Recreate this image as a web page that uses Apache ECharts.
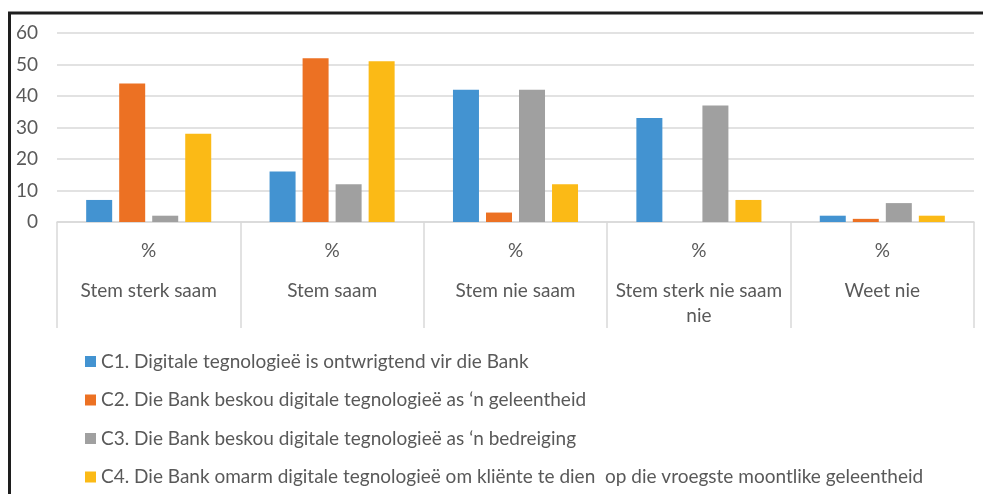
<!DOCTYPE html>
<html>
<head>
    <meta charset="utf-8">
    <title>Digitale tegnologie</title>
    <script src="https://cdn.jsdelivr.net/npm/echarts@6/dist/echarts.min.js"></script>
    <style>
        html, body { margin: 0; padding: 0; background: #fff; }
        #chart { width: 983px; height: 494px; }
    </style>
</head>
<body>
<div id="chart"></div>
<script>
    var categories = ['Stem sterk saam', 'Stem saam', 'Stem nie saam', 'Stem sterk nie saam nie', 'Weet nie'];
    var seriesNames = [
        'C1. Digitale tegnologieë is ontwrigtend vir die Bank',
        'C2. Die Bank beskou digitale tegnologieë as ‘n geleentheid',
        'C3. Die Bank beskou digitale tegnologieë as ‘n bedreiging',
        'C4. Die Bank omarm digitale tegnologieë om kliënte te dien  op die vroegste moontlike geleentheid'
    ];
    var c1 = [7, 16, 42, 33, 2];
    var c2 = [44, 52, 3, 0, 1];
    var c3 = [2, 12, 42, 37, 6];
    var c4 = [28, 51, 12, 7, 2];
    var yTicks = [0, 10, 20, 30, 40, 50, 60];

    var colors = ['#4393d1', '#ec7123', '#a0a0a0', '#fbba16'];
    var textColor = '#595959';
    var font = 'Lato';

    // wrap long category names onto a second line
    function wrapName(name) {
        var words = name.split(' ');
        var lines = [], cur = '';
        words.forEach(function (w) {
            if (cur && (cur + ' ' + w).length > 19) {
                lines.push(cur);
                cur = w;
            } else {
                cur = cur ? cur + ' ' + w : w;
            }
        });
        lines.push(cur);
        return lines.join('\n');
    }

    var myChart = echarts.init(document.getElementById('chart'));
    var allData = [c1, c2, c3, c4];
    var series = allData.map(function (d, i) {
        return {
            name: seriesNames[i],
            type: 'bar',
            data: d,
            barWidth: 26,
            barGap: '27%',
            itemStyle: { color: colors[i] }
        };
    });

    option = {
        animation: false,
        color: colors,
        textStyle: { fontFamily: font },
        graphic: [{
            type: 'rect',
            shape: { x: 9.5, y: 13, width: 1200, height: 1000 },
            style: { fill: 'none', stroke: '#1e1e1e', lineWidth: 3 },
            silent: true
        }],
        grid: {
            left: 57,
            right: 9,
            top: 33,
            bottom: 272,
            containLabel: false
        },
        legend: {
            orient: 'vertical',
            left: 80,
            top: 346,
            height: 200,
            itemWidth: 11,
            itemHeight: 11,
            itemGap: 17.5,
            icon: 'rect',
            textStyle: {
                fontFamily: font,
                fontSize: 19,
                lineHeight: 21,
                color: textColor
            },
            data: seriesNames
        },
        xAxis: {
            type: 'category',
            data: categories,
            axisLine: { show: true, lineStyle: { color: '#d9d9d9', width: 1.5 } },
            axisTick: {
                show: true,
                alignWithLabel: false,
                interval: 0,
                length: 106,
                lineStyle: { color: '#d9d9d9', width: 1.5 }
            },
            axisLabel: {
                interval: 0,
                margin: 1,
                color: textColor,
                fontFamily: font,
                formatter: function (v) {
                    return '{p|%}\n{n|' + wrapName(v) + '}';
                },
                rich: {
                    p: { fontSize: 19, lineHeight: 55, color: textColor, fontFamily: font },
                    n: { fontSize: 19, lineHeight: 25, color: textColor, fontFamily: font }
                }
            }
        },
        yAxis: {
            type: 'value',
            min: yTicks[0],
            max: yTicks[yTicks.length - 1],
            interval: yTicks[1] - yTicks[0],
            axisLine: { show: false },
            axisTick: { show: false },
            axisLabel: {
                margin: 19,
                color: textColor,
                fontFamily: font,
                fontSize: 19
            },
            splitLine: { lineStyle: { color: '#d9d9d9', width: 1.5 } }
        },
        series: series
    };
    myChart.setOption(option);
</script>
</body>
</html>
